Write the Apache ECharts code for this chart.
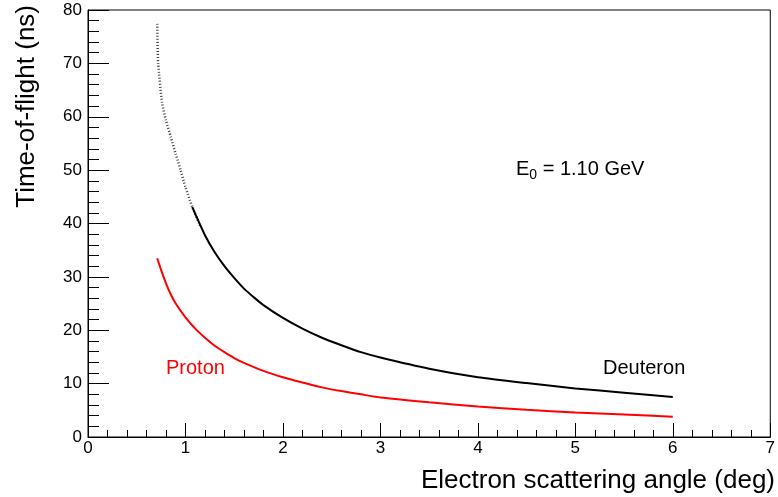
<!DOCTYPE html>
<html>
<head>
<meta charset="utf-8">
<script src="https://cdn.jsdelivr.net/npm/echarts@6/dist/echarts.min.js"></script>
<style>html,body{margin:0;padding:0;background:#fff}#c{width:778px;height:497px}</style>
</head>
<body>
<div id="c"></div>
<script>
// Deuteron: diffuse upper part (small angles)
var deutNoisyX = [0.71, 0.72, 0.76, 0.8, 0.85, 0.9, 0.95, 1.0, 1.07, 1.15];
var deutNoisyY = [77.4, 70.0, 62.6, 59.3, 56.2, 53.0, 50.0, 46.8, 43.1, 39.6];
// Deuteron: dense band
var deutX = [1.07, 1.1, 1.2, 1.3, 1.4, 1.5, 1.6, 1.7, 1.8, 2.0, 2.2, 2.4, 2.6, 2.8, 3.0, 3.5, 4.0, 4.5, 5.0, 5.5, 6.0];
var deutY = [43.1, 41.8, 37.8, 34.6, 32.0, 29.8, 27.8, 26.2, 24.7, 22.3, 20.3, 18.6, 17.2, 15.9, 14.9, 12.8, 11.2, 10.1, 9.1, 8.3, 7.5];
// Proton
var protX = [0.71, 0.75, 0.8, 0.85, 0.9, 1.0, 1.1, 1.2, 1.3, 1.4, 1.5, 1.6, 1.8, 2.0, 2.2, 2.4, 2.6, 2.8, 3.0, 3.5, 4.0, 4.5, 5.0, 5.5, 6.0];
var protY = [33.5, 31.3, 28.8, 26.7, 25.0, 22.4, 20.3, 18.6, 17.1, 15.9, 14.8, 13.9, 12.4, 11.2, 10.2, 9.3, 8.6, 8.0, 7.4, 6.5, 5.7, 5.1, 4.6, 4.2, 3.8];
// Axes
var xTicks = [0, 1, 2, 3, 4, 5, 6, 7];
var yTicks = [0, 10, 20, 30, 40, 50, 60, 70, 80];

function pairs(xs, ys){ return xs.map(function(x,i){ return [x, ys[i]]; }); }

var FONT = 'Liberation Sans, Arial, Helvetica, sans-serif';
var chart = echarts.init(document.getElementById('c'), null, {renderer:'canvas'});
chart.setOption({
  animation: false,
  backgroundColor: '#fff',
  grid: {left: 88, top: 10, right: 1, bottom: 60, show: true, borderColor: '#000', borderWidth: 1, containLabel: false},
  xAxis: {
    type: 'value', min: xTicks[0], max: xTicks[xTicks.length-1], interval: 1,
    axisLine: {show: true, onZero: false, lineStyle: {color: '#000', width: 1}},
    axisTick: {show: true, inside: true, length: 14, lineStyle: {color: '#000', width: 1}},
    minorTick: {show: true, splitNumber: 5, length: 7, lineStyle: {color: '#000', width: 1}},
    splitLine: {show: false},
    axisLabel: {color: '#000', fontSize: 17, fontFamily: FONT, margin: 3, showMaxLabel: true}
  },
  yAxis: {
    type: 'value', min: yTicks[0], max: yTicks[yTicks.length-1], interval: 10,
    axisLine: {show: true, onZero: false, lineStyle: {color: '#000', width: 1}},
    axisTick: {show: true, inside: true, length: 21, lineStyle: {color: '#000', width: 1}},
    minorTick: {show: true, splitNumber: 5, length: 11, lineStyle: {color: '#000', width: 1}},
    splitLine: {show: false},
    axisLabel: {color: '#000', fontSize: 17, fontFamily: FONT, margin: 6}
  },
  series: [
    {type: 'line', data: pairs(deutNoisyX, deutNoisyY), showSymbol: false, symbol: 'none', smooth: 0.2,
     lineStyle: {color: '#444', width: 2.5, type: [1, 2]}, z: 2},
    {type: 'line', data: pairs(deutX, deutY), showSymbol: false, symbol: 'none', smooth: 0.2,
     lineStyle: {color: '#000', width: 2}, z: 3},
    {type: 'line', data: pairs(protX, protY), showSymbol: false, symbol: 'none', smooth: 0.2,
     lineStyle: {color: '#ff0000', width: 2}, z: 3}
  ],
  graphic: [
    {type: 'text', x: 27, y: 5, rotation: Math.PI/2,
     style: {text: 'Time-of-flight (ns)', fontSize: 26, fontFamily: FONT, fill: '#000', align: 'right', verticalAlign: 'middle'}},
    {type: 'text', x: 775, y: 481,
     style: {text: 'Electron scattering angle (deg)', fontSize: 26, fontFamily: FONT, fill: '#000', align: 'right', verticalAlign: 'middle'}},
    {type: 'text', x: 516, y: 169,
     style: {text: '{a|E}{s|0}{a| = 1.10 GeV}', fontFamily: FONT, fill: '#000', align: 'left', verticalAlign: 'middle',
       rich: {a: {fontSize: 20, fontFamily: FONT, fill: '#000', lineHeight: 24},
              s: {fontSize: 14, fontFamily: FONT, fill: '#000', padding: [12, 0, 0, 0], lineHeight: 24}}}},
    {type: 'text', x: 166, y: 368,
     style: {text: 'Proton', fontSize: 20, fontFamily: FONT, fill: '#ff0000', align: 'left', verticalAlign: 'middle'}},
    {type: 'text', x: 603, y: 368,
     style: {text: 'Deuteron', fontSize: 20, fontFamily: FONT, fill: '#000', align: 'left', verticalAlign: 'middle'}}
  ]
});
</script>
</body>
</html>
